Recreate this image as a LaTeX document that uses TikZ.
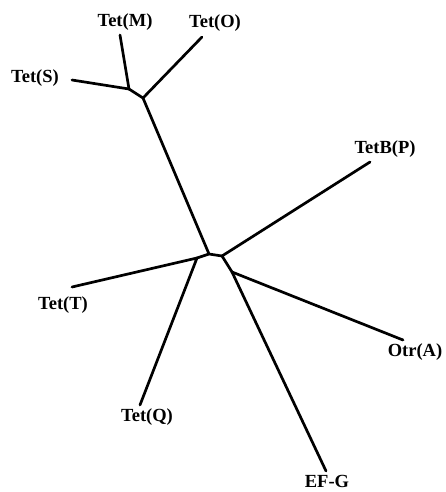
\documentclass[tikz,border=0pt]{standalone}
\usepackage{fontspec}
\setmainfont{Liberation Serif}
\begin{document}
\begin{tikzpicture}[x=1pt, y=-1pt,
  branch/.style={line width=2.7pt, line cap=round, line join=round},
  taxon/.style={font=\fontsize{18.5}{18.5}\selectfont\bfseries, inner sep=0pt}]
\useasboundingbox (0,0) rectangle (445,492);

% internal junctions of the tree
\coordinate (jA) at (129,89);
\coordinate (jB) at (143,98);
\coordinate (jC) at (209,254);
\coordinate (jD) at (222,256);
\coordinate (jE) at (197,258);
\coordinate (jF) at (232,272);

% leaf labels
\node[taxon] (M) at (125,22) {Tet(M)};
\node[taxon] (O) at (215,23) {Tet(O)};
\node[taxon] (S) at (35,78) {Tet(S)};
\node[taxon] (P) at (385,149) {TetB(P)};
\node[taxon] (T) at (63,305) {Tet(T)};
\node[taxon] (Q) at (147,417) {Tet(Q)};
\node[taxon] (A) at (415,352) {Otr(A)};
\node[taxon, anchor=south] (G) at (327,488) {EF-G};

% free ends of the leaf branches
\coordinate (eM) at (120,35);
\coordinate (eO) at (202,37);
\coordinate (eS) at (72,80);
\coordinate (eP) at (370,162);
\coordinate (eT) at (72,287);
\coordinate (eQ) at (140,405);
\coordinate (eA) at (403,340);
\coordinate (eG) at (326,471);

% branches
\draw[branch] (eS) -- (jA) -- (eM);
\draw[branch] (jA) -- (jB) -- (eO);
\draw[branch] (jB) -- (jC);
\draw[branch] (jE) -- (jC) -- (jD);
\draw[branch] (eT) -- (jE) -- (eQ);
\draw[branch] (jD) -- (eP);
\draw[branch] (jD) -- (jF);
\draw[branch] (jF) -- (eA);
\draw[branch] (jF) -- (eG);
\end{tikzpicture}
\end{document}
